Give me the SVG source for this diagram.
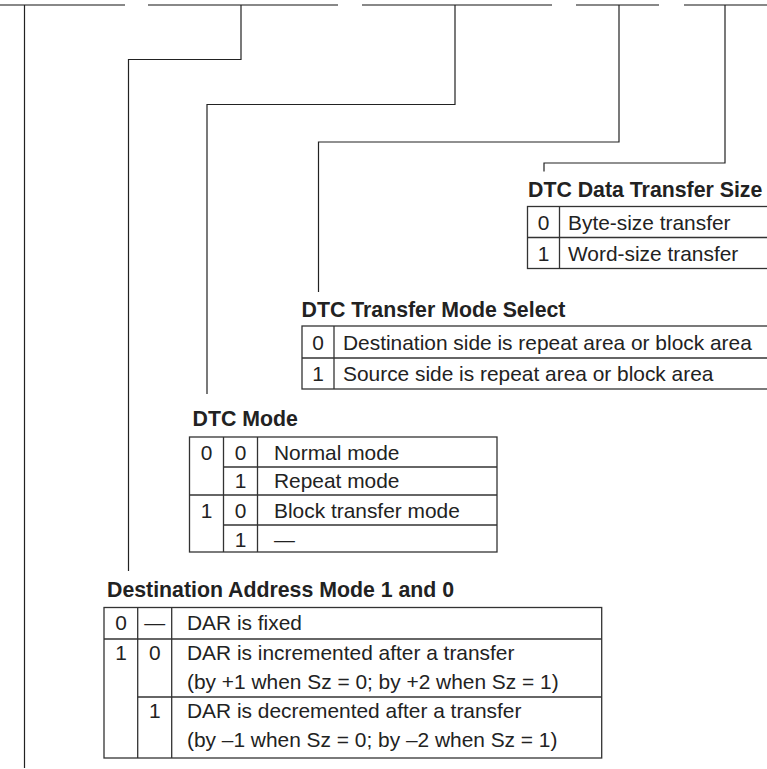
<svg xmlns="http://www.w3.org/2000/svg" width="767" height="769" viewBox="0 0 767 769">
<defs>
<style>
text{font-family:"Liberation Sans",Arial,sans-serif;font-size:20.9px;fill:#222}
.t{font-weight:bold;font-size:21.3px}
.c{text-anchor:middle}
.tbl{fill:none;stroke:#333;stroke-width:1.3}
.ln{fill:none;stroke:#333;stroke-width:1.3}
.con{fill:none;stroke:#222;stroke-width:1.2}
.bar{fill:none;stroke:#888;stroke-width:1.8}
</style>
</defs>
<rect width="767" height="769" fill="#fff"/>
<g id="bitfields">
<line class="bar" x1="0" y1="5" x2="125" y2="5"/>
<line class="bar" x1="148" y1="5" x2="338" y2="5"/>
<line class="bar" x1="362" y1="5" x2="552" y2="5"/>
<line class="bar" x1="576" y1="5" x2="659" y2="5"/>
<line class="bar" x1="684" y1="5" x2="767" y2="5"/>
</g>
<g id="connectors">
<path class="con" d="M24.5,5 V768"/>
<path class="con" d="M241,5 V59.5 H128.5 V571"/>
<path class="con" d="M455,5 V104.5 H207 V394"/>
<path class="con" d="M619,5 V142 H318.5 V292"/>
<path class="con" d="M725,5 V163 H544 V171.5"/>
</g>
<g id="dtc-data-transfer-size">
<text class="t" x="528" y="196.5">DTC Data Transfer Size</text>
<rect class="tbl" x="527.5" y="206.5" width="250" height="62"/>
<line class="ln" x1="527.5" y1="237.5" x2="767" y2="237.5"/>
<line class="ln" x1="559.5" y1="206.5" x2="559.5" y2="268.5"/>
<text class="c" x="543.5" y="229.5">0</text>
<text x="568" y="229.5">Byte-size transfer</text>
<text class="c" x="543.5" y="260.5">1</text>
<text x="568" y="260.5">Word-size transfer</text>
</g>
<g id="dtc-transfer-mode-select">
<text class="t" x="301.5" y="316.5">DTC Transfer Mode Select</text>
<rect class="tbl" x="302" y="326" width="470" height="63"/>
<line class="ln" x1="302" y1="358" x2="767" y2="358"/>
<line class="ln" x1="334" y1="326" x2="334" y2="389"/>
<text class="c" x="318" y="350">0</text>
<text x="343" y="350">Destination side is repeat area or block area</text>
<text class="c" x="318" y="381">1</text>
<text x="343" y="381">Source side is repeat area or block area</text>
</g>
<g id="dtc-mode">
<text class="t" x="192.5" y="425.5">DTC Mode</text>
<rect class="tbl" x="189.5" y="437" width="307.5" height="115"/>
<line class="ln" x1="223.5" y1="437" x2="223.5" y2="552"/>
<line class="ln" x1="257.5" y1="437" x2="257.5" y2="552"/>
<line class="ln" x1="223.5" y1="467" x2="497" y2="467"/>
<line class="ln" x1="189.5" y1="495" x2="497" y2="495"/>
<line class="ln" x1="223.5" y1="525" x2="497" y2="525"/>
<text class="c" x="206.5" y="460">0</text>
<text class="c" x="240.5" y="460">0</text>
<text x="274" y="460">Normal mode</text>
<text class="c" x="240.5" y="488">1</text>
<text x="274" y="488">Repeat mode</text>
<text class="c" x="206.5" y="518">1</text>
<text class="c" x="240.5" y="518">0</text>
<text x="274" y="518">Block transfer mode</text>
<text class="c" x="240.5" y="547">1</text>
<text x="274" y="547">—</text>
</g>
<g id="destination-address-mode">
<text class="t" x="107" y="597">Destination Address Mode 1 and 0</text>
<rect class="tbl" x="104" y="607.5" width="497.7" height="150.5"/>
<line class="ln" x1="137.7" y1="607.5" x2="137.7" y2="758"/>
<line class="ln" x1="171.7" y1="607.5" x2="171.7" y2="758"/>
<line class="ln" x1="104" y1="639" x2="601.7" y2="639"/>
<line class="ln" x1="137.7" y1="697" x2="601.7" y2="697"/>
<text class="c" x="121" y="630">0</text>
<text class="c" x="154.7" y="630">—</text>
<text x="187" y="630">DAR is fixed</text>
<text class="c" x="121" y="660">1</text>
<text class="c" x="154.7" y="660">0</text>
<text x="187" y="660">DAR is incremented after a transfer</text>
<text x="187" y="689">(by +1 when Sz = 0; by +2 when Sz = 1)</text>
<text class="c" x="154.7" y="718">1</text>
<text x="187" y="718">DAR is decremented after a transfer</text>
<text x="187" y="747">(by –1 when Sz = 0; by –2 when Sz = 1)</text>
</g>
</svg>
